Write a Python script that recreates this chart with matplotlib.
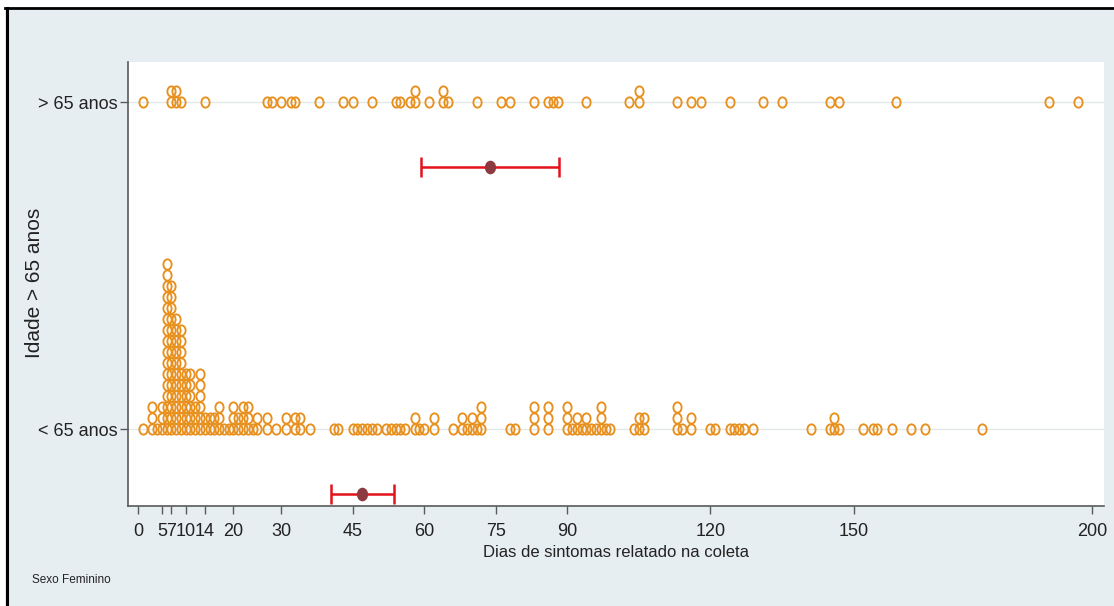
import numpy as np
import matplotlib.pyplot as plt
from matplotlib.path import Path
from matplotlib.transforms import Affine2D
from matplotlib.lines import Line2D
from matplotlib.patches import Rectangle

# categories (bottom to top)
groups = ["< 65 anos", "> 65 anos"]

# days of symptoms per woman (repeats = stacked dots)
days_under65 = [1, 3, 3, 3, 4, 5, 5, 5] + [6] * 16 + [7] * 14 + [8] * 11 + [9] * 10 + \
    [10] * 6 + [11] * 6 + [12] * 3 + [13] * 6 + [14] * 2 + [15] * 2 + [16] * 2 + [17] * 3 + \
    [18, 19, 20, 20, 20, 21, 21, 22, 22, 22, 23, 23, 23, 24, 25, 25, 27, 27, 29, 31, 31,
     33, 33, 34, 34, 36, 41, 42, 45, 46, 47, 48, 49, 50, 52, 53, 54, 55, 56, 58, 58, 59,
     60, 62, 62, 66, 68, 68, 69, 70, 70, 71, 72, 72, 72, 78, 79, 83, 83, 83, 86, 86, 86,
     90, 90, 90, 91, 92, 92, 93, 94, 94, 95, 96, 97, 97, 97, 98, 99, 104, 105, 105, 106,
     106, 113, 113, 113, 114, 116, 116, 120, 121, 124, 125, 126, 127, 129, 141, 145, 146,
     146, 147, 152, 154, 155, 158, 162, 165, 177]
days_over65 = [1, 7, 7, 8, 8, 9, 14, 27, 28, 30, 32, 33, 38, 43, 45, 49, 54, 55, 57, 58,
               58, 61, 64, 64, 65, 71, 76, 78, 83, 86, 87, 88, 94, 103, 105, 105, 113, 116,
               118, 124, 131, 135, 145, 147, 159, 191, 197]

# mean and 95% CI per group
mean_days = [47.0, 73.8]
ci_low = [40.5, 59.3]
ci_high = [53.7, 88.3]

xticks = [0, 5, 7, 10, 14, 20, 30, 45, 60, 75, 90, 120, 150, 200]

orange = "#e8901e"
red = "#e3121b"
maroon = "#8c3a3f"
bg = "#e7eef2"
axcol = "#5a5a5a"
txt = "#222222"

plt.rcParams["font.family"] = ["Liberation Sans", "DejaVu Sans"]

W, H = 1114, 606
fig = plt.figure(figsize=(W / 100, H / 100), dpi=100)
fig.patch.set_facecolor("white")

# stata-like outer frame
fig.add_artist(Rectangle((5 / W, 0), 1 - 5 / W, 1 - 7 / H, transform=fig.transFigure,
                         facecolor=bg, edgecolor="none", zorder=-10))
fig.add_artist(Line2D([6.5 / W, 6.5 / W], [0, 1 - 7.5 / H], transform=fig.transFigure,
                      color="black", lw=2.2))
fig.add_artist(Line2D([5 / W, 1], [1 - 7.5 / H, 1 - 7.5 / H], transform=fig.transFigure,
                      color="black", lw=2.0))

ax = fig.add_axes([128 / W, 1 - 506 / H, (1104 - 128) / W, (506 - 62) / H])
ax.set_facecolor("white")

ellipse = Path.unit_circle().transformed(Affine2D().scale(0.8, 1.0))
step = 11 / 327
offset_ci = -0.2

for i, days in enumerate([days_under65, days_over65]):
    vals, counts = np.unique(days, return_counts=True)
    xs, ys = [], []
    for v, c in zip(vals, counts):
        for k in range(c):
            xs.append(v)
            ys.append(i + k * step)
    ax.plot(xs, ys, linestyle="none", marker=ellipse, ms=7.4, mfc="none",
            mec=orange, mew=1.35, zorder=3)

ypos = np.arange(len(groups)) + offset_ci
mean_arr = np.array(mean_days)
xerr = [mean_arr - np.array(ci_low), np.array(ci_high) - mean_arr]
ax.errorbar(mean_arr, ypos, xerr=xerr, fmt="none", ecolor=red, elinewidth=1.8,
            capsize=7.5, capthick=1.8, zorder=4)
ax.plot(mean_arr, ypos, linestyle="none", marker=ellipse, ms=8.8, color=maroon, zorder=5)

ax.set_xlim(-2.1, 202.5)
ax.set_ylim(-(506 - 429) / 327, (429 - 62) / 327)
ax.set_xticks(xticks, [str(t) for t in xticks])
ax.set_yticks(range(len(groups)), groups)
ax.yaxis.grid(True, color="#e3e7ea", lw=1.0)
ax.set_axisbelow(True)

for s in ["top", "right"]:
    ax.spines[s].set_visible(False)
for s in ["left", "bottom"]:
    ax.spines[s].set_color(axcol)
    ax.spines[s].set_linewidth(1.2)
ax.tick_params(axis="both", direction="out", color=axcol, width=1.0, length=5.5,
               labelsize=13, labelcolor=txt)
ax.tick_params(axis="x", pad=7)
ax.tick_params(axis="y", pad=2)

ax.set_xlabel("Dias de sintomas relatado na coleta", fontsize=12, color=txt,
              labelpad=3)
fig.text(35 / W, 1 - 283 / H, "Idade > 65 anos", rotation=90, ha="center", va="center",
         fontsize=15, color=txt)
fig.text(32 / W, 1 - 580 / H, "Sexo Feminino", ha="left", va="center", fontsize=8.5,
         color=txt)

fig.savefig("out.png", dpi=100)
